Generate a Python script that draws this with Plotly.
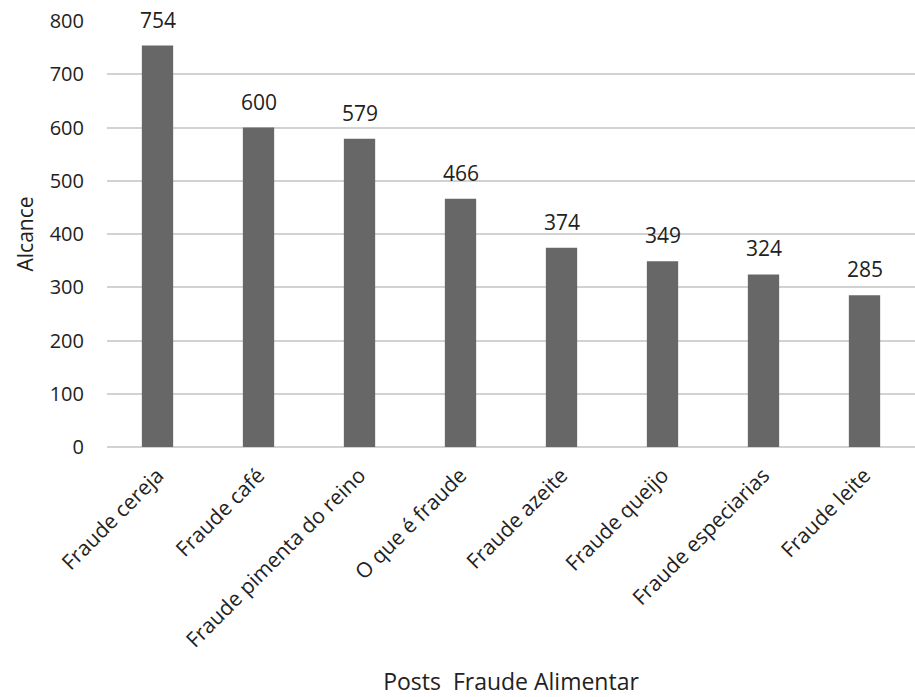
import plotly.graph_objects as go

categories = [
    "Fraude cereja",
    "Fraude café",
    "Fraude pimenta do reino",
    "O que é fraude",
    "Fraude azeite",
    "Fraude queijo",
    "Fraude especiarias",
    "Fraude leite",
]
reach = [754, 600, 579, 466, 374, 349, 324, 285]
y_ticks = [0, 100, 200, 300, 400, 500, 600, 700, 800]

FONT = "Open Sans, Noto Sans, sans-serif"
TEXT = "#222222"
BAR = "#676768"
GRID = "#d2d2d2"

fig = go.Figure(
    go.Bar(
        x=categories,
        y=reach,
        marker=dict(color=BAR, line=dict(width=0)),
        hoverinfo="x+y",
    )
)

# value labels above each bar
for cat, val in zip(categories, reach):
    fig.add_annotation(
        x=cat, y=val, text=str(val), showarrow=False,
        yanchor="bottom", yshift=10,
        font=dict(family=FONT, size=21, color=TEXT),
    )

fig.update_layout(
    width=915,
    height=697,
    margin=dict(l=107, r=0, t=21, b=250),
    paper_bgcolor="white",
    plot_bgcolor="white",
    bargap=0.69,
    showlegend=False,
    font=dict(family=FONT, size=20, color=TEXT),
    xaxis=dict(
        tickangle=-45,
        tickfont=dict(family=FONT, size=21, color=TEXT),
        showgrid=False,
        showline=False,
        ticks="",
        ticklabelstandoff=11,
        automargin=False,
        title=dict(
            text="Posts  Fraude Alimentar",
            font=dict(family=FONT, size=23, color=TEXT),
            standoff=24,
        ),
    ),
    yaxis=dict(
        range=[0, 800],
        tickvals=y_ticks,
        tickfont=dict(family=FONT, size=20, color=TEXT),
        showgrid=True,
        gridcolor=GRID,
        gridwidth=2,
        zeroline=True,
        zerolinecolor=GRID,
        zerolinewidth=2,
        showline=False,
        ticks="",
        ticklabelstandoff=22,
        automargin=False,
        title=dict(
            text="Alcance",
            font=dict(family=FONT, size=21, color=TEXT),
            standoff=10,
        ),
    ),
)

fig.write_html("out.html")
